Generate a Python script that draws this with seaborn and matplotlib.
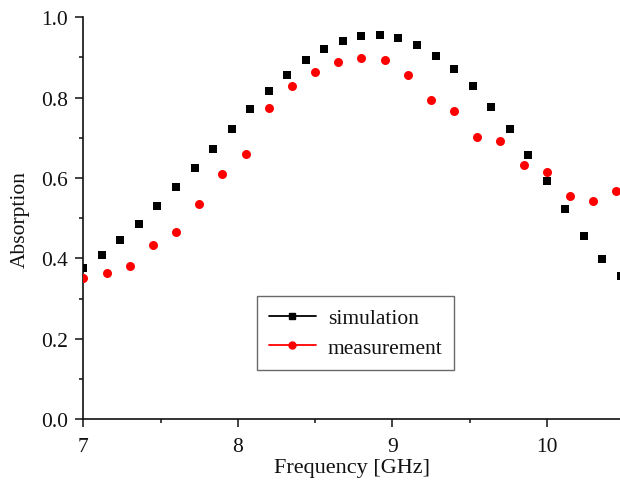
import matplotlib
matplotlib.use("Agg")
import matplotlib.pyplot as plt
from matplotlib.lines import Line2D
from matplotlib.ticker import MultipleLocator, FormatStrFormatter
import seaborn as sns
import pandas as pd

sim_freq = [7.00, 7.12, 7.24, 7.36, 7.48, 7.60, 7.72, 7.84, 7.96, 8.08,
            8.20, 8.32, 8.44, 8.56, 8.68, 8.80, 8.92, 9.04, 9.16, 9.28,
            9.40, 9.52, 9.64, 9.76, 9.88, 10.00, 10.12, 10.24, 10.36, 10.48]
sim_abs = [0.376, 0.408, 0.445, 0.485, 0.531, 0.577, 0.625, 0.673, 0.723, 0.771,
           0.816, 0.856, 0.893, 0.921, 0.942, 0.954, 0.956, 0.949, 0.931, 0.904,
           0.871, 0.828, 0.777, 0.721, 0.657, 0.593, 0.524, 0.457, 0.398, 0.356]

meas_freq = [7.00, 7.15, 7.30, 7.45, 7.60, 7.75, 7.90, 8.05, 8.20, 8.35,
             8.50, 8.65, 8.80, 8.95, 9.10, 9.25, 9.40, 9.55, 9.70, 9.85,
             10.00, 10.15, 10.30, 10.45]
meas_abs = [0.352, 0.363, 0.381, 0.434, 0.467, 0.535, 0.609, 0.659, 0.774, 0.829,
            0.864, 0.890, 0.899, 0.893, 0.856, 0.795, 0.766, 0.702, 0.692, 0.632,
            0.614, 0.556, 0.544, 0.569]

labels = ["simulation", "measurement"]
x_ticks = [7, 8, 9, 10]

sns.set_theme(style="white")
plt.rcParams['font.family'] = ['Liberation Serif', 'DejaVu Serif']
plt.rcParams['mathtext.fontset'] = 'stix'

fig = plt.figure(figsize=(6.2, 4.81), dpi=100)
ax = fig.add_axes([0.1344, 0.1262, 1.0 - 0.1344, 0.962 - 0.1262])

df_sim = pd.DataFrame({"f": sim_freq, "a": sim_abs})
df_meas = pd.DataFrame({"f": meas_freq, "a": meas_abs})

sns.scatterplot(data=df_sim, x="f", y="a", marker="s", color="black",
                s=34, linewidth=0, ax=ax, zorder=3)
sns.scatterplot(data=df_meas, x="f", y="a", marker="o", color="#ff0000",
                s=42, linewidth=0, ax=ax, zorder=3)

ax.set_xlim(7.0, 10.474)
ax.set_ylim(0.0, 1.0)
ax.set_xticks(x_ticks)
ax.xaxis.set_minor_locator(MultipleLocator(0.5))
ax.yaxis.set_major_locator(MultipleLocator(0.2))
ax.yaxis.set_minor_locator(MultipleLocator(0.1))
ax.yaxis.set_major_formatter(FormatStrFormatter('%.1f'))

for s in ["top", "right"]:
    ax.spines[s].set_visible(False)
for s in ["left", "bottom"]:
    ax.spines[s].set_color("#111111")
    ax.spines[s].set_linewidth(1.2)

ax.tick_params(which="major", direction="out", length=5.5, width=1.1,
               colors="#111111", labelsize=15.5, pad=5.5,
               left=True, bottom=True)
ax.tick_params(which="minor", direction="out", length=3, width=1.1,
               colors="#111111", left=True, bottom=True)
ax.tick_params(axis="x", which="major", pad=7)

ax.set_xlabel("Frequency [GHz]", fontsize=16, color="#111111", labelpad=2)
ax.set_ylabel("Absorption", fontsize=15.5, color="#111111", labelpad=8)

handles = [
    Line2D([0], [0], color="black", lw=1.3, marker="s", markersize=4.3),
    Line2D([0], [0], color="#ff0000", lw=1.3, marker="o", markersize=5),
]
leg = ax.legend(handles, labels, loc="upper left", bbox_to_anchor=(0.323, 0.306),
                borderaxespad=0, fontsize=15.5, frameon=True, fancybox=False,
                handlelength=2.2, handletextpad=0.55, labelspacing=0.45,
                borderpad=0.55, edgecolor="#444444")
leg.get_frame().set_linewidth(1.0)
for t in leg.get_texts():
    t.set_color("#111111")

fig.savefig("out.png", dpi=100)
